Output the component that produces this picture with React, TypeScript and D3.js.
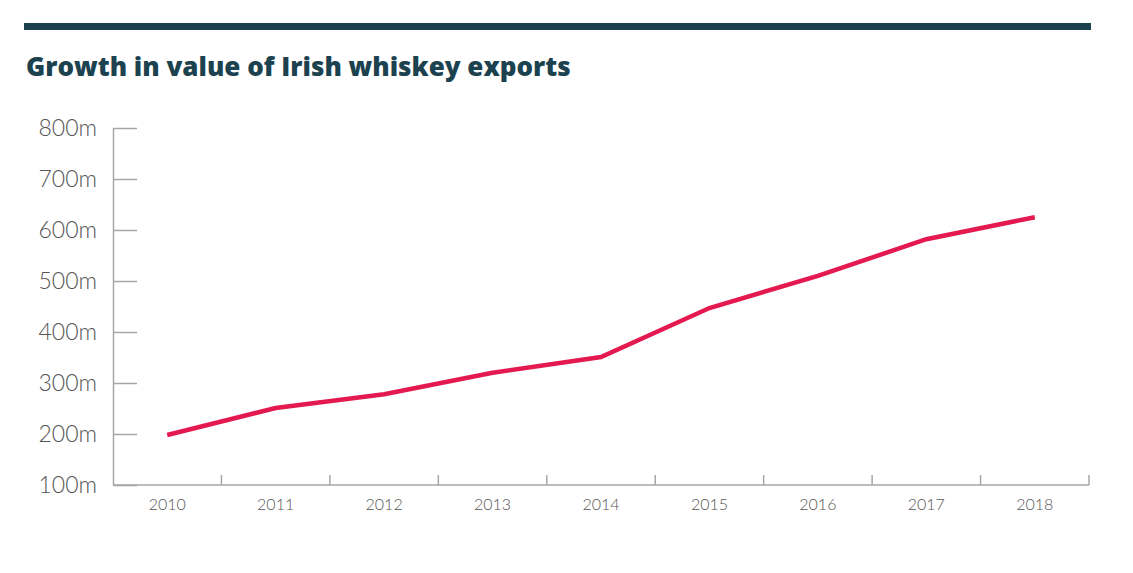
import * as d3 from 'd3';
import React, { useEffect, useRef } from 'react';

const years = ['2010', '2011', '2012', '2013', '2014', '2015', '2016', '2017', '2018'];
const exportValues = [198, 251, 278, 320, 351, 447, 510, 582, 625]; // millions
const yTicks = [100, 200, 300, 400, 500, 600, 700, 800];

const App: React.FC = () => {
  const ref = useRef<SVGSVGElement | null>(null);

  useEffect(() => {
    const width = 1133;
    const height = 573;
    const left = 113;
    const right = 1089;
    const top = 128;
    const bottom = 485;

    const svg = d3.select(ref.current)
      .attr('width', width)
      .attr('height', height);
    svg.selectAll('*').remove();

    // header rule + title
    svg.append('rect')
      .attr('x', 24).attr('y', 23)
      .attr('width', 1091 - 24).attr('height', 7)
      .attr('fill', '#1c4250');

    svg.append('text')
      .attr('x', 26).attr('y', 76)
      .attr('fill', '#1c4250')
      .style('font-family', '"Open Sans", sans-serif')
      .style('font-weight', 800)
      .style('font-size', '26px')
      .text('Growth in value of Irish whiskey exports');

    const x = d3.scaleBand<string>().domain(years).range([left, right]);
    const y = d3.scaleLinear().domain([100, 800]).range([bottom, top]);

    const axisColor = '#a6a6a6';
    const labelColor = '#555555';

    // y axis
    const yAxis = svg.append('g')
      .attr('transform', `translate(${left},0)`)
      .call(d3.axisRight(y).tickValues(yTicks).tickSize(24).tickFormat(() => ''));
    yAxis.select('.domain').attr('stroke', axisColor).attr('stroke-width', 1.5)
      .attr('d', `M0.5,${top}V${bottom}`);
    yAxis.selectAll('.tick line').attr('stroke', axisColor).attr('stroke-width', 1.5);

    svg.append('g')
      .selectAll('text')
      .data(yTicks)
      .enter()
      .append('text')
      .attr('x', 97)
      .attr('y', (d) => y(d) + 8)
      .attr('text-anchor', 'end')
      .attr('fill', labelColor)
      .style('font-family', 'Lato, sans-serif')
      .style('font-weight', 300)
      .style('font-size', '23px')
      .text((d) => `${d}m`);

    // x axis: baseline with upward ticks at band edges
    svg.append('line')
      .attr('x1', left).attr('x2', right)
      .attr('y1', bottom).attr('y2', bottom)
      .attr('stroke', axisColor).attr('stroke-width', 1.5);

    const edges = years.slice(1).map((yr) => x(yr) as number).concat([right]);
    svg.append('g')
      .selectAll('line')
      .data(edges)
      .enter()
      .append('line')
      .attr('x1', (d) => d).attr('x2', (d) => d)
      .attr('y1', bottom - 10).attr('y2', bottom)
      .attr('stroke', axisColor).attr('stroke-width', 1.5);

    svg.append('g')
      .selectAll('text')
      .data(years)
      .enter()
      .append('text')
      .attr('x', (d) => (x(d) as number) + x.bandwidth() / 2)
      .attr('y', 510)
      .attr('text-anchor', 'middle')
      .attr('fill', labelColor)
      .style('font-family', 'Lato, sans-serif')
      .style('font-weight', 300)
      .style('font-size', '16px')
      .text((d) => d);

    // the series
    const line = d3.line<number>()
      .x((_d, i) => (x(years[i]) as number) + x.bandwidth() / 2)
      .y((d) => y(d));

    svg.append('path')
      .datum(exportValues)
      .attr('d', line)
      .attr('fill', 'none')
      .attr('stroke', '#e3194f')
      .attr('stroke-width', 4.5)
      .attr('stroke-linejoin', 'miter');
  }, []);

  return (
    <div style={{ position: 'absolute', left: 0, top: 0 }}>
      <svg ref={ref} style={{ display: 'block' }}></svg>
    </div>
  );
};

export default App;
